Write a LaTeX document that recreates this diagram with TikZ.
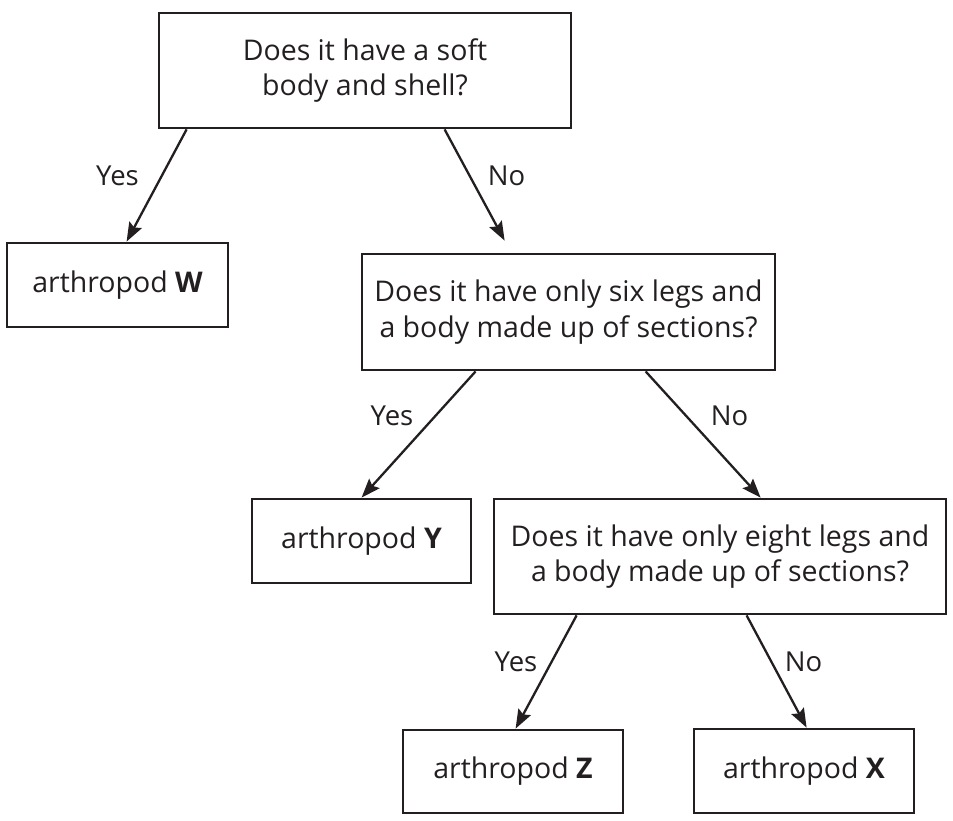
\documentclass[tikz,border=0pt]{standalone}
\usepackage{fontspec}
\setmainfont{Open Sans}
\usetikzlibrary{arrows.meta}
\definecolor{ink}{HTML}{231F20}
\begin{document}
\begin{tikzpicture}[x=1pt,y=-1pt,
  box/.style={draw=ink,line width=2.8pt,rectangle,inner sep=0pt,align=center,text=ink,
    font=\fontsize{28.5}{35.5}\selectfont},
  arr/.style={draw=ink,line width=2.3pt,-{Stealth[length=19pt,width=14pt,inset=3pt]}},
  lbl/.style={anchor=base,text=ink,inner sep=0pt,font=\fontsize{27.5}{35}\selectfont}]
\useasboundingbox (0,0) rectangle (953,821);
\node[box,minimum width=412pt,minimum height=115pt] (b1) at (365,70.5) {Does it have a soft\\body and shell?};
\node[box,minimum width=221pt,minimum height=84pt] (w) at (117.5,285) {arthropod \textbf{W}};
\node[box,minimum width=413pt,minimum height=116pt] (b2) at (568.5,312) {Does it have only six legs and\\a body made up of sections?};
\node[box,minimum width=219pt,minimum height=84pt] (y) at (361.5,541) {arthropod \textbf{Y}};
\node[box,minimum width=452pt,minimum height=115pt] (b3) at (720,556.5) {Does it have only eight legs and\\a body made up of sections?};
\node[box,minimum width=220pt,minimum height=83pt] (z) at (513,771.5) {arthropod \textbf{Z}};
\node[box,minimum width=220pt,minimum height=84pt] (x) at (804,771) {arthropod \textbf{X}};
\draw[arr] ([xshift=29pt]b1.south west) -- ([xshift=121pt]w.north west);
\draw[arr] ([xshift=287pt]b1.south west) -- ([xshift=144pt,yshift=12pt]b2.north west);
\draw[arr] ([xshift=115pt]b2.south west) -- ([xshift=111pt]y.north west);
\draw[arr] ([xshift=285pt]b2.south west) -- ([xshift=268pt]b3.north west);
\draw[arr] ([xshift=84pt]b3.south west) -- ([xshift=114pt]z.north west);
\draw[arr] ([xshift=254pt]b3.south west) -- ([xshift=114pt]x.north west);
\node[lbl] (l1) at (117.5,186) {Yes};
\node[lbl] (l2) at (506.5,186) {No};
\node[lbl] (l3) at (392,425) {Yes};
\node[lbl] (l4) at (729.5,425) {No};
\node[lbl] (l5) at (516,671) {Yes};
\node[lbl] (l6) at (803.5,671) {No};
\end{tikzpicture}
\end{document}
